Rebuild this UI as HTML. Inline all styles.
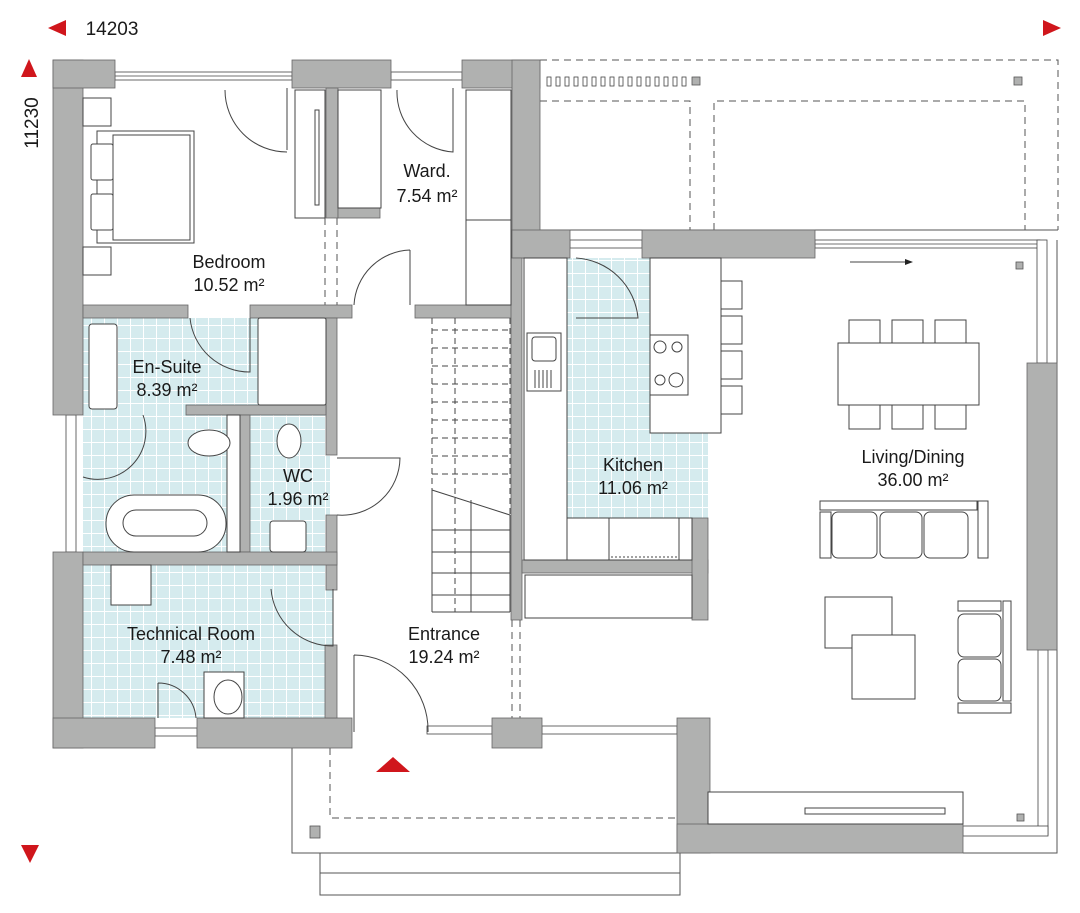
<!DOCTYPE html>
<html><head><meta charset="utf-8"><style>
html,body{margin:0;padding:0;background:#fff;}
svg{display:block;}
text{font-family:"Liberation Sans",sans-serif;font-size:18px;fill:#1a1a1a;text-anchor:middle;}
</style></head><body>
<svg width="1080" height="913" viewBox="0 0 1080 913" xmlns="http://www.w3.org/2000/svg">
<defs>
<pattern id="tile" width="13" height="13" patternUnits="userSpaceOnUse">
<rect width="13" height="13" fill="#d5ebee"/>
<path d="M0 0.5H13M0.5 0V13" stroke="#fff" stroke-width="1"/>
</pattern>
</defs>

<g fill="url(#tile)">
<rect x="83" y="318" width="243" height="234"/>
<rect x="250" y="415" width="80" height="137"/>
<rect x="83" y="565" width="250" height="153"/>
<rect x="567" y="258" width="141" height="260"/>
</g>

<g fill="none" stroke="#555" stroke-width="1">
<path d="M540 60 H1058 V230" stroke-dasharray="7,5"/>
<path d="M540 101 H690 V230 M714 230 V101 H1025 V230" stroke-dasharray="7,5"/>
<path d="M540 230 H1058"/>
<path d="M292 748 V853 H680 M320 853 V895 H680 V853 M320 873 H680"/>
<path d="M330 748 V818 H680" stroke-dasharray="7,5"/>
<path d="M963 853 H1057 V240"/>
<path d="M325 218 V305 M337 218 V305" stroke-dasharray="7,5"/>
<path d="M512 620 V718 M520 620 V718" stroke-dasharray="7,5"/>
</g>
<g fill="#fff" stroke="#444" stroke-width="0.8">
<rect x="547" y="77" width="4" height="9"/><rect x="556" y="77" width="4" height="9"/><rect x="565" y="77" width="4" height="9"/><rect x="574" y="77" width="4" height="9"/><rect x="583" y="77" width="4" height="9"/><rect x="592" y="77" width="4" height="9"/><rect x="601" y="77" width="4" height="9"/><rect x="610" y="77" width="4" height="9"/><rect x="619" y="77" width="4" height="9"/><rect x="628" y="77" width="4" height="9"/><rect x="637" y="77" width="4" height="9"/><rect x="646" y="77" width="4" height="9"/><rect x="655" y="77" width="4" height="9"/><rect x="664" y="77" width="4" height="9"/><rect x="673" y="77" width="4" height="9"/><rect x="682" y="77" width="4" height="9"/>
</g>
<g fill="#b0b1b0" stroke="#555" stroke-width="0.8">
<rect x="692" y="77" width="8" height="8"/><rect x="1014" y="77" width="8" height="8"/>
<rect x="1016" y="262" width="7" height="7"/><rect x="1017" y="814" width="7" height="7"/>
<rect x="310" y="826" width="10" height="12"/>
</g>

<g fill="#fff" stroke="#444" stroke-width="0.8">
<rect x="115" y="72" width="177" height="8"/><line x1="115" y1="76" x2="292" y2="76"/>
<rect x="391" y="72" width="71" height="8"/>
<rect x="570" y="240" width="72" height="8"/>
<rect x="815" y="240" width="225" height="8"/><line x1="815" y1="244" x2="1040" y2="244"/>
<rect x="1037" y="240" width="10" height="123"/>
<rect x="1038" y="650" width="10" height="185"/>
<rect x="963" y="826" width="85" height="10"/>
<rect x="66" y="415" width="10" height="137"/>
<rect x="155" y="728" width="42" height="8"/>
<rect x="427" y="726" width="65" height="8"/>
<rect x="542" y="726" width="135" height="8"/>
</g>

<g fill="#b0b1b0" stroke="#666" stroke-width="0.8">
<rect x="53" y="60" width="30" height="355"/>
<rect x="53" y="552" width="30" height="196"/>
<rect x="53" y="60" width="62" height="28"/>
<rect x="292" y="60" width="99" height="28"/>
<rect x="462" y="60" width="78" height="28"/>
<rect x="512" y="60" width="28" height="198"/>
<rect x="512" y="230" width="58" height="28"/>
<rect x="642" y="230" width="173" height="28"/>
<rect x="1027" y="363" width="30" height="287"/>
<rect x="53" y="718" width="102" height="30"/>
<rect x="197" y="718" width="155" height="30"/>
<rect x="492" y="718" width="50" height="30"/>
<rect x="677" y="718" width="33" height="135"/>
<rect x="677" y="824" width="286" height="29"/>
<rect x="83" y="305" width="105" height="13"/>
<rect x="250" y="305" width="102" height="13"/>
<rect x="415" y="305" width="105" height="13"/>
<rect x="326" y="88" width="12" height="130"/>
<rect x="338" y="208" width="42" height="10"/>
<rect x="326" y="318" width="11" height="137"/>
<rect x="326" y="515" width="11" height="75"/>
<rect x="186" y="405" width="140" height="10"/>
<rect x="240" y="415" width="10" height="137"/>
<rect x="83" y="552" width="254" height="13"/>
<rect x="325" y="645" width="12" height="73"/>
<rect x="511" y="258" width="11" height="362"/>
<rect x="522" y="560" width="186" height="13"/>
<rect x="692" y="518" width="16" height="102"/>
</g>

<g fill="#fff" stroke="#444" stroke-width="1">
<rect x="83" y="98" width="28" height="28"/>
<rect x="83" y="247" width="28" height="28"/>
<rect x="97" y="131" width="97" height="112"/>
<rect x="113" y="135" width="77" height="105"/>
<rect x="91" y="144" width="22" height="36" rx="2"/>
<rect x="91" y="194" width="22" height="36" rx="2"/>
<rect x="295" y="90" width="30" height="128"/>
<rect x="315" y="110" width="4" height="95"/>
<rect x="338" y="90" width="43" height="118"/>
<rect x="466" y="90" width="45" height="130"/>
<rect x="466" y="220" width="45" height="85"/>
<rect x="89" y="324" width="28" height="85" rx="3"/>
<rect x="258" y="318" width="68" height="87" rx="2"/>
<rect x="227" y="415" width="13" height="137"/>
<rect x="106" y="495" width="120" height="57" rx="28"/>
<rect x="123" y="510" width="84" height="26" rx="13"/>
<ellipse cx="209" cy="443" rx="21" ry="13"/>
<ellipse cx="289" cy="441" rx="12" ry="17"/>
<rect x="270" y="521" width="36" height="31" rx="3"/>
<rect x="111" y="565" width="40" height="40"/>
<rect x="204" y="672" width="40" height="46"/>
<ellipse cx="228" cy="697" rx="14" ry="17"/>
<rect x="524" y="258" width="43" height="302"/>
<rect x="527" y="333" width="34" height="58"/>
<rect x="532" y="337" width="24" height="24" rx="3"/>
<rect x="567" y="518" width="125" height="42"/>
<rect x="609" y="518" width="70" height="42"/>
<rect x="650" y="258" width="71" height="175"/>
<rect x="650" y="335" width="38" height="60"/>
<circle cx="660" cy="347" r="6"/><circle cx="677" cy="347" r="5"/>
<circle cx="660" cy="380" r="5"/><circle cx="676" cy="380" r="7"/>
<rect x="721" y="281" width="21" height="28"/><rect x="721" y="316" width="21" height="28"/><rect x="721" y="351" width="21" height="28"/><rect x="721" y="386" width="21" height="28"/>
<rect x="525" y="575" width="167" height="43"/>
<rect x="849" y="320" width="31" height="23"/><rect x="892" y="320" width="31" height="23"/><rect x="935" y="320" width="31" height="23"/>
<rect x="849" y="405" width="31" height="24"/><rect x="892" y="405" width="31" height="24"/><rect x="935" y="405" width="31" height="24"/>
<rect x="838" y="343" width="141" height="62"/>
<rect x="820" y="501" width="157" height="9"/>
<rect x="820" y="512" width="11" height="46"/><rect x="978" y="501" width="10" height="57"/>
<rect x="832" y="512" width="45" height="46" rx="6"/><rect x="880" y="512" width="42" height="46" rx="6"/><rect x="924" y="512" width="44" height="46" rx="6"/>
<rect x="825" y="597" width="67" height="51"/>
<rect x="852" y="635" width="63" height="64"/>
<rect x="958" y="601" width="43" height="10"/><rect x="958" y="703" width="53" height="10"/>
<rect x="1003" y="601" width="8" height="100"/>
<rect x="958" y="614" width="43" height="43" rx="6"/><rect x="958" y="659" width="43" height="42" rx="6"/>
<rect x="708" y="792" width="255" height="32"/>
<rect x="805" y="808" width="140" height="6"/>
</g>
<g stroke="#444" stroke-width="1" fill="none">
<path d="M535 370V388M539 370V388M543 370V388M547 370V388M551 370V388"/>
<path d="M611 557H679" stroke-dasharray="2,2"/>
<path d="M432 318V612M455 318V612M510 318V612" stroke-dasharray="6,4"/>
<path d="M432 330H510M432 348H510M432 366H510M432 384H510M432 402H510M432 420H510M432 438H510M432 456H510M432 474H510" stroke-dasharray="6,4"/>
<path d="M432 490L510 515"/>
<path d="M432 490V612M471 500V612M510 515V612M432 530H510M432 552H510M432 573H510M432 595H510M432 612H510"/>
<path d="M287 88V150M225 90A62 62 0 0 0 287 152"/>
<path d="M453 88V152A60 60 0 0 1 397 90"/>
<path d="M410 250V305M410 250A58 58 0 0 0 354 305"/>
<path d="M250 318V372A60 60 0 0 1 190 318"/>
<path d="M143 415A48 48 0 0 1 83 477"/>
<path d="M337 458H400A58 58 0 0 1 337 515"/>
<path d="M333 589V646A62 62 0 0 1 271 589"/>
<path d="M158 683V718M158 683A38 38 0 0 1 196 718"/>
<path d="M354 655V732M354 655A75 75 0 0 1 428 732"/>
<path d="M576 318H638A66 66 0 0 0 576 258"/>
<path d="M850 262H910"/>
</g>
<path d="M905 259L913 262L905 265Z" fill="#222"/>

<text x="427" y="177">Ward.</text><text x="427" y="202">7.54 m²</text>
<text x="229" y="268">Bedroom</text><text x="229" y="291">10.52 m²</text>
<text x="167" y="373">En-Suite</text><text x="167" y="396">8.39 m²</text>
<text x="298" y="482">WC</text><text x="298" y="505">1.96 m²</text>
<text x="633" y="471">Kitchen</text><text x="633" y="494">11.06 m²</text>
<text x="913" y="463">Living/Dining</text><text x="913" y="486">36.00 m²</text>
<text x="191" y="640">Technical Room</text><text x="191" y="663">7.48 m²</text>
<text x="444" y="640">Entrance</text><text x="444" y="663">19.24 m²</text>
<text x="112" y="35" style="font-size:19px">14203</text>
<text x="0" y="0" transform="translate(38 123) rotate(-90)" style="font-size:19px">11230</text>

<g fill="#d0161c">
<path d="M48 28L66 20V36Z"/>
<path d="M1061 28L1043 20V36Z"/>
<path d="M29 59L21 77H37Z"/>
<path d="M30 863L21 845H39Z"/>
<path d="M393 757L376 772H410Z"/>
</g>
</svg>
</body></html>
